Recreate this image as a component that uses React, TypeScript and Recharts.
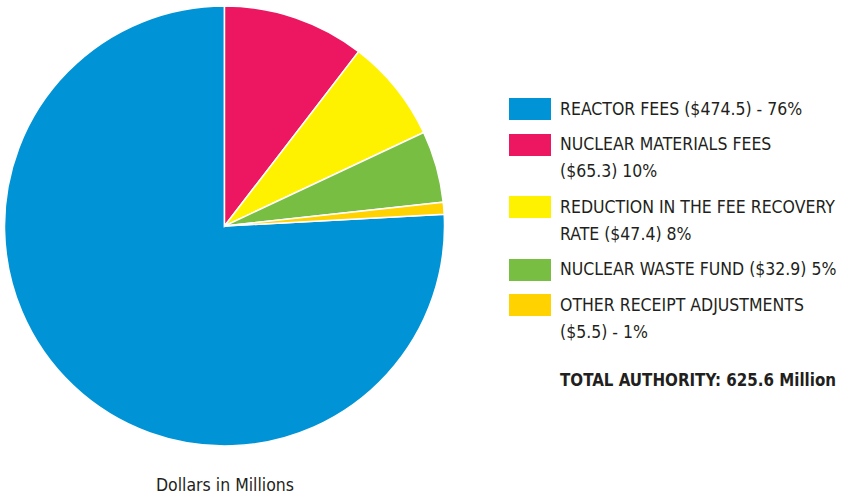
import React from 'react';
import { PieChart, Pie, Cell } from 'recharts';

const categories = [
  'Reactor Fees',
  'Nuclear Materials Fees',
  'Reduction in the Fee Recovery Rate',
  'Nuclear Waste Fund',
  'Other Receipt Adjustments',
];
const values = [474.5, 65.3, 47.4, 32.9, 5.5];
const colors = ['#0093D6', '#ED1660', '#FFF200', '#78BE43', '#FFD200'];
const legendLines = [
  ['REACTOR FEES ($474.5) - 76%'],
  ['NUCLEAR MATERIALS FEES', '($65.3) 10%'],
  ['REDUCTION IN THE FEE RECOVERY', 'RATE ($47.4) 8%'],
  ['NUCLEAR WASTE FUND ($32.9) 5%'],
  ['OTHER RECEIPT ADJUSTMENTS', '($5.5) - 1%'],
];
const totalLabel = 'TOTAL AUTHORITY: 625.6 Million';
const caption = 'Dollars in Millions';

const data = categories.map((name, i) => ({ name, value: values[i] }));
const total = values.reduce((a, b) => a + b, 0);
// first slice ends at 12 o'clock, the rest run clockwise from there
const startAngle = 90 + (360 * values[0]) / total;

const font = '"DejaVu Sans", sans-serif';

const App = () => {
  return (
    <div style={{ position: 'fixed', left: 0, top: 0, width: 845, height: 497, background: '#fff', fontFamily: font, fontStretch: 'condensed', color: '#231F20' }}>
      <PieChart width={450} height={460} margin={{ top: 0, right: 0, bottom: 0, left: 0 }} style={{ position: 'absolute', left: 0, top: 0 }}>
        <Pie
          data={data}
          dataKey="value"
          cx={224.5}
          cy={226}
          innerRadius={0}
          outerRadius={220}
          startAngle={startAngle}
          endAngle={startAngle - 360}
          stroke="#fff"
          strokeWidth={1.5}
          isAnimationActive={false}
        >
          {data.map((_, i) => (
            <Cell key={`cell-${i}`} fill={colors[i]} />
          ))}
        </Pie>
      </PieChart>

      <div style={{ position: 'absolute', left: 509, top: 98, display: 'flex', flexDirection: 'column', gap: 11 }}>
        {legendLines.map((lines, i) => (
          <div key={i} style={{ display: 'flex', alignItems: 'flex-start', gap: 9 }}>
            <div style={{ width: 42, height: 22, background: colors[i], flexShrink: 0 }} />
            <div style={{ fontSize: 17.5, lineHeight: '27px', marginTop: -2.5, whiteSpace: 'nowrap' }}>
              {lines.map((l, j) => (
                <div key={j}>{l}</div>
              ))}
            </div>
          </div>
        ))}
        <div style={{ marginLeft: 51, marginTop: 10, fontSize: 16.8, lineHeight: '27px', fontWeight: 700, whiteSpace: 'nowrap' }}>
          {totalLabel}
        </div>
      </div>

      <div style={{ position: 'absolute', left: 0, width: 450, top: 473, textAlign: 'center', fontSize: 17.5, lineHeight: '24px' }}>
        {caption}
      </div>
    </div>
  );
};

export default App;
